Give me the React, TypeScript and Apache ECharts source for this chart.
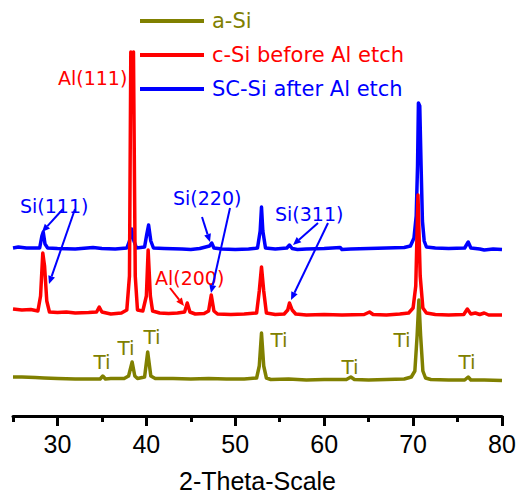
import React, { useEffect, useRef } from "react";
import * as echarts from "echarts";

// 2-theta (deg), intensity (arbitrary, vertically offset)
const aSi: [number, number][] = [
  [25, 39], [26, 39], [27.5, 38.5], [28.5, 38], [30, 37.5], [32, 37], [34, 37], [34.8, 37], [35.1, 40], [35.4, 37],
  [36, 37.5], [37.5, 37.5], [38.0, 40], [38.4, 54], [38.7, 40], [39.0, 37.5], [39.8, 39], [40.15, 64], [40.5, 40],
  [41, 37.5], [43, 37.5], [45, 37], [47, 37.5], [49, 37], [51, 37], [52.4, 38], [52.7, 50], [52.95, 83], [53.2, 50],
  [53.5, 38], [54, 36.5], [56, 37], [58, 36], [60, 36.5], [62.5, 36.5], [63, 39], [63.4, 36.5], [65, 36], [67, 36.5],
  [69, 37], [69.8, 39], [70.2, 45], [70.45, 80], [70.65, 116], [70.85, 80], [71.1, 45], [71.4, 38], [72, 36.5],
  [74, 36], [75.8, 36], [76.2, 39], [76.5, 36], [78, 36], [80, 35.5],
];

const cSiBefore: [number, number][] = [
  [25, 107], [26, 106], [27, 106.5], [27.8, 105], [28.1, 120], [28.35, 163], [28.55, 150], [28.8, 115], [29.1, 104],
  [30, 103.5], [31, 104], [32, 103], [33.5, 103.5], [34.4, 104], [34.7, 109], [35, 104], [36, 102], [37.2, 103],
  [37.8, 106], [38.1, 140], [38.25, 364], [38.4, 362], [38.55, 364], [38.75, 140], [39.0, 106], [39.6, 105], [40.0, 120],
  [40.2, 166], [40.45, 120], [40.7, 105], [41.5, 103], [42.5, 102.5], [43.5, 103], [44.3, 104], [44.6, 113], [44.9, 104],
  [45.5, 102], [46.5, 102.5], [47.0, 105], [47.3, 121], [47.6, 105], [48, 102], [49.5, 101.5], [51, 102], [52.4, 103],
  [52.7, 125], [52.95, 149], [53.2, 125], [53.5, 103], [54.5, 101.5], [55.5, 102], [55.9, 106], [56.1, 113], [56.4, 106],
  [56.8, 102], [58, 101], [60, 101.5], [62, 101], [64.5, 101.5], [65.1, 104], [65.5, 101.5], [67, 101], [68.5, 102],
  [69.5, 103], [70.0, 108], [70.3, 130], [70.55, 221], [70.8, 140], [71.1, 108], [71.5, 103], [72.5, 101.5], [74, 101],
  [75.7, 101.5], [76.1, 107], [76.5, 102], [77, 103], [77.5, 101.5], [78, 103], [78.5, 101], [80, 101],
];

const scSiAfter: [number, number][] = [
  [25, 168], [25.6, 169], [26.5, 168], [28.0, 168], [28.25, 180], [28.4, 184], [28.6, 172], [28.9, 168], [30, 167.5],
  [32, 167], [34, 168.5], [35, 167.5], [36.5, 167], [37.8, 168], [38.1, 175], [38.35, 187], [38.6, 175], [38.9, 168],
  [39.8, 169], [40.05, 182], [40.25, 191], [40.5, 175], [40.8, 168], [42, 167.5], [44, 167], [45, 166.5], [46, 167.5],
  [47.1, 170], [47.35, 173], [47.6, 168], [48.5, 167], [50, 166.5], [51.5, 167], [52.5, 168], [52.8, 185], [52.95, 209],
  [53.1, 185], [53.4, 168], [54.5, 167], [55.8, 168], [56.1, 171], [56.4, 167.5], [57, 166.5], [58, 167], [60, 167.5],
  [61.8, 168.5], [62, 166.5], [63, 167], [65, 167.5], [67, 168], [69, 168.5], [69.7, 170], [70.1, 178], [70.35, 200],
  [70.5, 250], [70.6, 313], [70.75, 310], [70.9, 250], [71.05, 195], [71.25, 175], [71.5, 169], [72.5, 168], [74, 167.5],
  [75.8, 168], [76.2, 174], [76.5, 168], [77.5, 167], [78, 166], [79, 167], [80, 166.5],
];

const seriesNames = ["a-Si", "c-Si before Al etch", "SC-Si after Al etch"];
const seriesColors = ["#808000", "#ff0000", "#0000ff"];
const majorTicks = [30, 40, 50, 60, 70, 80];
const minorTicks = [25, 35, 45, 55, 65, 75];

const OLIVE = "#808000";
const RED = "#ff0000";
const BLUE = "#0000ff";
const FONT = "DejaVu Sans";

function arrow(x1: number, y1: number, x2: number, y2: number, color: string) {
  const dx = x2 - x1;
  const dy = y2 - y1;
  const len = Math.sqrt(dx * dx + dy * dy);
  const ux = dx / len;
  const uy = dy / len;
  const hl = 8;
  const hw = 3.5;
  const bx = x2 - ux * hl;
  const by = y2 - uy * hl;
  return [
    { type: "line", shape: { x1, y1, x2: bx, y2: by }, style: { stroke: color, lineWidth: 2 }, z: 100 },
    {
      type: "polygon",
      shape: { points: [[x2, y2], [bx - uy * hw, by + ux * hw], [bx + uy * hw, by - ux * hw]] },
      style: { fill: color },
      z: 100,
    },
  ];
}

function label(text: string, x: number, y: number, color: string, size: number, align = "left") {
  return {
    type: "text",
    x,
    y,
    z: 100,
    style: { text, fill: color, font: `${size}px "${FONT}"`, align, verticalAlign: "middle" },
  };
}

export default function App() {
  const ref = useRef<HTMLDivElement>(null);
  useEffect(() => {
    if (!ref.current) return;
    const chart = echarts.init(ref.current, undefined, { renderer: "svg" });
    const dataSets = [aSi, cSiBefore, scSiAfter];
    // draw order: blue bottom, red, olive top
    const order = [2, 1, 0];
    const graphics: any[] = [
      label("Al(111)", 58, 78, RED, 19),
      label("Si(111)", 20, 206, BLUE, 19),
      label("Si(220)", 173, 198, BLUE, 19),
      label("Si(311)", 275, 214, BLUE, 19),
      label("Al(200)", 155, 278, RED, 19),
      label("Ti", 102, 362, OLIVE, 20, "center"),
      label("Ti", 126, 348, OLIVE, 20, "center"),
      label("Ti", 152, 337, OLIVE, 20, "center"),
      label("Ti", 279, 340, OLIVE, 20, "center"),
      label("Ti", 350, 367, OLIVE, 20, "center"),
      label("Ti", 402, 340, OLIVE, 20, "center"),
      label("Ti", 467, 362, OLIVE, 20, "center"),
      ...arrow(63, 209, 42, 232, BLUE),
      ...arrow(75, 209, 49, 284, BLUE),
      ...arrow(202, 217, 210, 242, BLUE),
      ...arrow(230, 208, 211, 293, BLUE),
      ...arrow(318, 223, 293, 245, BLUE),
      ...arrow(328, 223, 291, 300, BLUE),
      ...arrow(170, 288, 184, 306, RED),
    ];
    chart.setOption({
      animation: false,
      grid: { left: 13, right: 15, top: 16, bottom: 81, containLabel: false, outerBoundsMode: "none" },
      legend: {
        orient: "vertical",
        left: 140,
        top: 9,
        padding: 0,
        icon: "rect",
        itemWidth: 64,
        itemHeight: 4,
        itemGap: 10,
        textStyle: { fontFamily: FONT, fontSize: 21, lineHeight: 24, padding: [0, 0, 0, 3] },
        data: seriesNames.map((n, i) => ({ name: n, textStyle: { color: seriesColors[i] } })),
      },
      xAxis: [
        {
          type: "value",
          min: 25,
          max: 80,
          position: "bottom",
          axisLine: { show: true, lineStyle: { color: "#000", width: 3 } },
          axisTick: { show: true, customValues: majorTicks, length: 10, lineStyle: { color: "#000", width: 3 } },
          axisLabel: { customValues: majorTicks, fontSize: 25, color: "#000", fontFamily: "Liberation Sans", margin: 15 },
          splitLine: { show: false },
          name: "2-Theta-Scale",
          nameLocation: "middle",
          nameGap: 52,
          nameTextStyle: { fontSize: 25, fontFamily: "Liberation Sans", color: "#000" },
        },
        {
          type: "value",
          min: 25,
          max: 80,
          position: "bottom",
          axisLine: { show: false },
          axisTick: { show: true, customValues: minorTicks, length: 6, lineStyle: { color: "#000", width: 3 } },
          axisLabel: { show: false },
          splitLine: { show: false },
        },
      ],
      yAxis: { type: "value", min: 0, max: 400, show: false },
      series: order.map((i) => ({
        name: seriesNames[i],
        type: "line",
        xAxisIndex: 0,
        data: dataSets[i],
        symbol: "none",
        showSymbol: false,
        color: seriesColors[i],
        lineStyle: { width: 3.5, color: seriesColors[i], join: "round" },
      })),
      graphic: graphics,
    });
    return () => chart.dispose();
  }, []);
  return <div ref={ref} style={{ width: 517, height: 497, position: "absolute", left: 0, top: 0 }} />;
}
